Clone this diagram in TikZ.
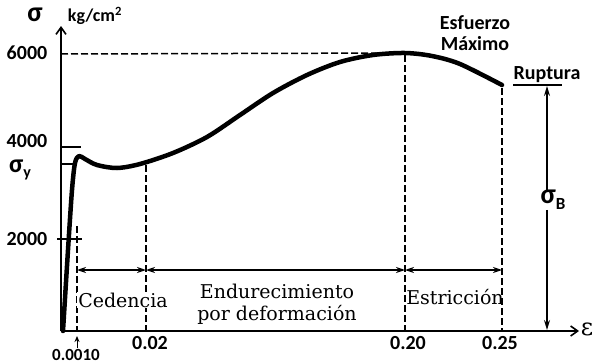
\documentclass[tikz,border=0pt]{standalone}
\usepackage{fontspec}
\setmainfont{DejaVu Serif}
\newfontfamily\lblfont{Carlito}
\usetikzlibrary{arrows.meta}

\tikzset{
  num/.style={font=\lblfont\bfseries\fontsize{20}{21}\selectfont, inner sep=1pt},
  zone/.style={font=\fontsize{19}{22}\selectfont, align=center, inner sep=1pt},
  guide/.style={line width=1.5pt, dash pattern=on 7pt off 3pt},
  dim/.style={line width=1.2pt, {Stealth[length=9pt,width=6pt]}-{Stealth[length=9pt,width=6pt]}},
  greek/.style={font=\lblfont\bfseries\fontsize{28}{28}\selectfont, inner sep=0pt},
}

\begin{document}
\begin{tikzpicture}[x=1pt, y=-1pt]
        \useasboundingbox (0,0) rectangle (592,364);
        % axes
        \coordinate (o) at (61,331);
        \coordinate (ytop) at (61,26);
        \coordinate (xend) at (579,331);
        \draw[line width=1.6pt, -{Straight Barb[length=7pt,width=10pt]}] (o) -- (ytop);
        \draw[line width=1.6pt, -{Straight Barb[length=7pt,width=10pt]}] (o) -- (xend);
        \node[greek] (sig) at (35,15) {σ};
        \node[num, font=\lblfont\bfseries\fontsize{18}{19}\selectfont] (unit) at (95,16) {kg/cm\textsuperscript{2}};
        \node[font=\fontsize{24}{24}\selectfont, inner sep=1pt] (eps) at (587,329) {ε};
        % stress ticks
        \node[num] (s6000) at (27,53) {6000};
        \node[num] (s4000) at (27,141) {4000};
        \node[num] (s2000) at (27,239) {2000};
        \node[greek, font=\lblfont\bfseries\fontsize{26}{26}\selectfont, anchor=base, text height=11pt, text depth=6pt] (sy) at (20,172) {σ\raisebox{-5pt}{\fontsize{16}{16}\selectfont y}};
        \coordinate (t4a) at (61,147);   \coordinate (t4b) at (81,147);
        \coordinate (tya) at (61,164);   \coordinate (tyb) at (73,164);
        \coordinate (t2a) at (57,239);   \coordinate (t2b) at (82,239);
        \draw[line width=1.2pt] (t4a) -- (t4b);
        \draw[line width=1.2pt] (tya) -- (tyb);
        \draw[line width=1.2pt] (t2a) -- (t2b);
        % curve
        \coordinate (ymax) at (405,53);
        \coordinate (rup) at (502,85);
        \draw[line width=4.5pt, line cap=round, line join=round] plot[smooth, tension=0.5] coordinates {
            (63,331) (68,250) (72,190) (75,163) (79,156) (85,159) (97,165) (117,168)
            (140,164) (173,153) (207,137) (240,115) (273,93) (307,75) (340,62) (373,55)
            (405,53) (432,56) (460,64) (502,85)
        };
        % guide lines
        \coordinate (g6) at (61,54);
        \draw[guide] (g6) -- (ymax);
        \foreach \gx/\gtop in {77/226, 146/165, 405/55, 502/88}{
            \draw[guide] (\gx,\gtop) coordinate (gt\gx) -- (\gx,331) coordinate (gb\gx);
        }
        % strain labels
        \node[num] (e02) at (150,343) {0.02};
        \node[num] (e20) at (408,343) {0.20};
        \node[num] (e25) at (500,343) {0.25};
        \node[num, font=\lblfont\bfseries\fontsize{17}{18}\selectfont] (e001) at (76,355) {0.0010};
        \coordinate (pt001) at (77,336);
        \draw[line width=1pt, -{Stealth[length=6pt,width=5pt]}] (e001.north -| pt001) -- (pt001);
        % zones
        \coordinate (d1) at (77,270);  \coordinate (d2) at (146,270);
        \coordinate (d3) at (405,270); \coordinate (d4) at (502,270);
        \draw[dim] (d1) -- (d2);
        \draw[dim] (d2) -- (d3);
        \draw[dim] (d3) -- (d4);
        \node[zone, fill=white] (ced) at (123,300) {Cedencia};
        \node[zone] (endu) at (277,304) {Endurecimiento\\por deformación};
        \node[zone] (estr) at (455,297) {Estricción};
        % rupture
        \node[num, align=center] (esf) at (475,33) {Esfuerzo\\Máximo};
        \node[num] (rlab) at (547,75) {Ruptura};
        \coordinate (ra) at (513,85);  \coordinate (rb) at (562,85);
        \draw[line width=1.2pt] (ra) -- (rb);
        \node[greek] (sb) at (553,200) {σ\raisebox{-6pt}{\fontsize{17}{17}\selectfont B}};
        \coordinate (bt) at (547,86);  \coordinate (bb) at (547,330);
        \draw[line width=1.3pt, -{Stealth[length=10pt,width=6pt]}] (sb.north -| bt) -- (bt);
        \draw[line width=1.3pt, -{Stealth[length=10pt,width=6pt]}] (sb.south -| bb) -- (bb);
    \end{tikzpicture}
\end{document}
